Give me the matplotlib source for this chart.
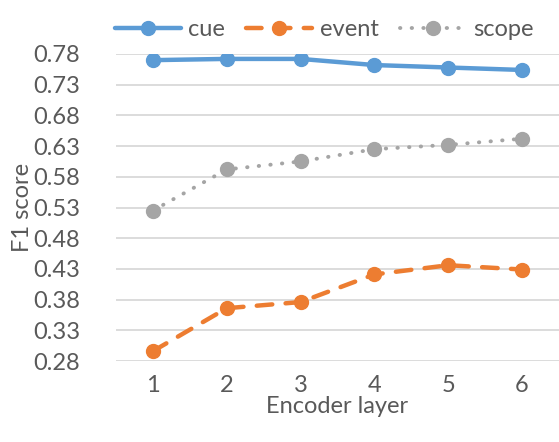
import matplotlib
matplotlib.use("Agg")
import matplotlib.pyplot as plt

# 数据：编码层数 vs F1
layers = [1, 2, 3, 4, 5, 6]
cue = [0.770, 0.772, 0.772, 0.762, 0.758, 0.754]
event = [0.296, 0.366, 0.376, 0.421, 0.436, 0.429]
scope = [0.525, 0.592, 0.605, 0.625, 0.632, 0.642]
yticks = [0.28, 0.33, 0.38, 0.43, 0.48, 0.53, 0.58, 0.63, 0.68, 0.73, 0.78]

plt.rcParams['font.family'] = ['Lato', 'DejaVu Sans']
txt = '#595959'
fs = 17

fig = plt.figure(figsize=(5.59, 4.42), dpi=100)
ax = fig.add_axes([116 / 559, 1 - 361 / 442, (559 - 116) / 559, (361 - 54) / 442])

ax.plot(layers, cue, color='#5B9BD5', lw=3.2, marker='o', ms=10, label='cue',
        solid_capstyle='round')
ax.plot(layers, event, color='#ED7D31', lw=3.2, marker='o', ms=10, label='event',
        dashes=(3.5, 3), dash_capstyle='round')
ax.plot(layers, scope, color='#A5A5A5', lw=2.8, marker='o', ms=10, label='scope',
        dashes=(0.1, 2.9), dash_capstyle='round')

ax.set_xlim(0.5, 6.5)
ax.set_ylim(0.28, 0.78)
ax.set_yticks(yticks)
ax.set_yticklabels([f"{v:.2f}" for v in yticks])
ax.set_xticks(layers)
ax.grid(axis='y', color='#D9D9D9', lw=1.3)
ax.set_axisbelow(True)
for s in ax.spines.values():
    s.set_visible(False)
ax.tick_params(length=0, labelsize=fs, colors=txt, pad=10)
ax.tick_params(axis='y', pad=26)
for lab in ax.get_yticklabels():
    lab.set_horizontalalignment('right')
ax.set_xlabel('Encoder layer', fontsize=fs, color=txt, labelpad=0)
ax.set_ylabel('F1 score', fontsize=fs, color=txt, labelpad=0)

ax.legend(loc='lower center', bbox_to_anchor=(0.47, 1.0), ncol=3, frameon=False,
          fontsize=fs, labelcolor=txt, handlelength=2.8, columnspacing=0.9,
          handletextpad=0.3, borderaxespad=0.2)

fig.savefig('out.png', dpi=100)
